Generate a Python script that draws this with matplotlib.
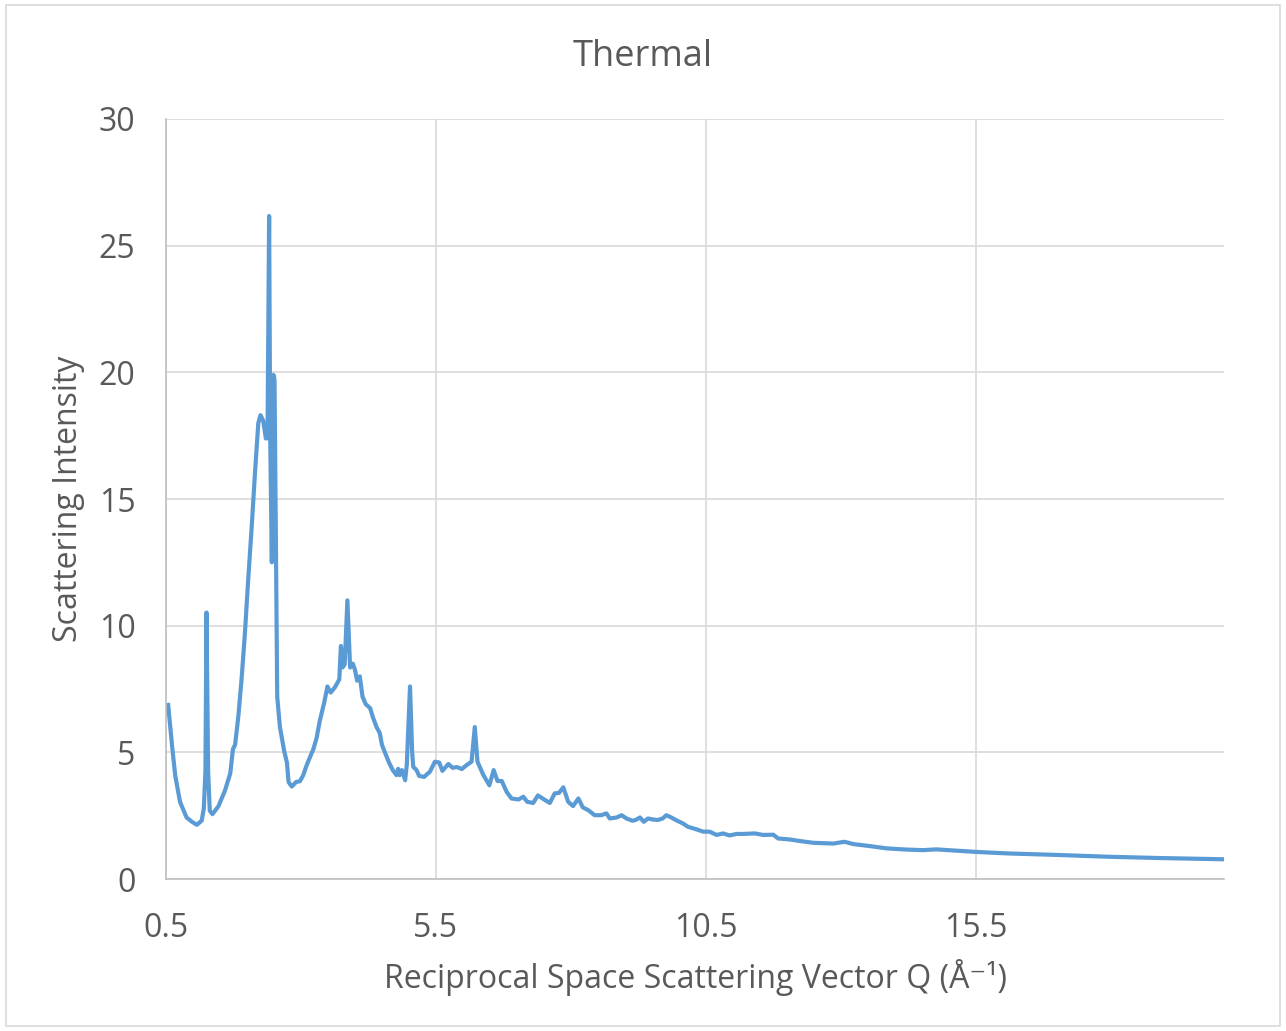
import matplotlib.pyplot as plt
from matplotlib.patches import Rectangle

plt.rcParams['font.family'] = ['Open Sans', 'DejaVu Sans']

# values
q = [0.54, 0.61, 0.67, 0.76, 0.88, 0.98, 1.07, 1.16, 1.20, 1.23,
     1.25, 1.28, 1.31, 1.36, 1.47, 1.59, 1.69, 1.74, 1.78, 1.84,
     1.90, 1.96, 2.02, 2.09, 2.15, 2.21, 2.25, 2.30, 2.35, 2.38,
     2.41, 2.43, 2.46, 2.49, 2.51, 2.54, 2.56, 2.61, 2.69, 2.74,
     2.77, 2.83, 2.91, 2.98, 3.04, 3.11, 3.23, 3.29, 3.35, 3.43,
     3.49, 3.55, 3.63, 3.71, 3.74, 3.77, 3.81, 3.86, 3.91, 3.96,
     4.00, 4.04, 4.09, 4.14, 4.20, 4.28, 4.33, 4.40, 4.46, 4.50,
     4.56, 4.63, 4.70, 4.77, 4.80, 4.83, 4.87, 4.93, 4.96, 5.02,
     5.06, 5.08, 5.14, 5.19, 5.28, 5.39, 5.48, 5.56, 5.62, 5.73,
     5.81, 5.89, 5.98, 6.07, 6.16, 6.22, 6.27, 6.38, 6.49, 6.57,
     6.64, 6.72, 6.81, 6.90, 7.03, 7.12, 7.19, 7.30, 7.39, 7.49,
     7.61, 7.70, 7.78, 7.86, 7.95, 8.04, 8.14, 8.22, 8.32, 8.44,
     8.56, 8.66, 8.72, 8.85, 8.94, 9.03, 9.14, 9.20, 9.28, 9.35,
     9.43, 9.52, 9.61, 9.70, 9.77, 9.86, 9.97, 10.08, 10.17, 10.33,
     10.45, 10.57, 10.70, 10.82, 10.94, 11.07, 11.19, 11.41, 11.56, 11.75,
     11.84, 12.06, 12.24, 12.49, 12.86, 13.07, 13.23, 13.54, 13.85, 14.15,
     14.52, 14.77, 15.14, 15.51, 16.10, 17.02, 17.95, 18.88, 20.08]

intensity = [6.87, 5.3, 4.09, 3.04, 2.43, 2.26, 2.14, 2.3, 2.78, 4.26,
             10.52, 4.26, 2.7, 2.56, 2.87, 3.48, 4.17, 5.13, 5.3, 6.43,
             7.9, 9.65, 11.74, 14.0, 16.1, 18.0, 18.31, 18.09, 17.39, 17.4,
             26.17, 17.4, 12.5, 19.9, 19.7, 12.1, 7.2, 6.0, 5.04, 4.6,
             3.83, 3.65, 3.83, 3.86, 4.09, 4.52, 5.13, 5.57, 6.26, 6.96,
             7.6, 7.36, 7.57, 7.88, 9.2, 8.35, 8.47, 11.0, 8.35, 8.5,
             8.26, 7.83, 8.0, 7.2, 6.9, 6.75, 6.4, 6.0, 5.76, 5.3,
             4.97, 4.6, 4.3, 4.1, 4.35, 4.1, 4.3, 3.9, 4.5, 7.6,
             5.0, 4.43, 4.3, 4.07, 4.03, 4.24, 4.63, 4.6, 4.27, 4.54,
             4.39, 4.42, 4.34, 4.5, 4.63, 6.0, 4.63, 4.1, 3.7, 4.3,
             3.87, 3.87, 3.44, 3.18, 3.14, 3.25, 3.05, 3.0, 3.3, 3.16,
             3.0, 3.38, 3.4, 3.62, 3.05, 2.88, 3.18, 2.83, 2.72, 2.52,
             2.52, 2.59, 2.39, 2.43, 2.52, 2.39, 2.3, 2.33, 2.43, 2.26,
             2.39, 2.35, 2.33, 2.39, 2.52, 2.43, 2.3, 2.19, 2.06, 1.96,
             1.87, 1.87, 1.74, 1.8, 1.72, 1.78, 1.78, 1.8, 1.74, 1.75,
             1.6, 1.56, 1.5, 1.43, 1.4, 1.47, 1.38, 1.3, 1.21, 1.17,
             1.14, 1.17, 1.12, 1.07, 1.01, 0.95, 0.88, 0.83, 0.78]

x_ticks = [0.5, 5.5, 10.5, 15.5]
y_ticks = [0, 5, 10, 15, 20, 25, 30]

text_col = "#595959"
grid_col = "#D9D9D9"

fig = plt.figure(figsize=(12.86, 10.31), dpi=100)
ax = fig.add_axes([0.1291, 0.1474, 0.8227, 0.7372])

ax.plot(q, intensity, color="#5B9BD5", linewidth=3.0, solid_joinstyle="round")

ax.set_xlim(0.5, 20.1)
ax.set_ylim(0, 30)
ax.set_xticks(x_ticks)
ax.set_xticklabels([str(t) for t in x_ticks])
ax.set_yticks(y_ticks)

ax.grid(True, color=grid_col, linewidth=1.2)
ax.set_axisbelow(True)
for s in ["top", "right"]:
    ax.spines[s].set_visible(False)
for s in ["left", "bottom"]:
    ax.spines[s].set_color("#BFBFBF")
    ax.spines[s].set_linewidth(1.2)

ax.tick_params(length=0, labelsize=23, colors=text_col, pad=22)
ax.tick_params(axis="x", pad=24)

fig.text(0.5, 0.945, "Thermal", fontsize=26, color=text_col, ha="center", va="center")
ax.set_xlabel("Reciprocal Space Scattering Vector Q (Å⁻¹)", fontsize=23,
              color=text_col, labelpad=10)
ax.set_ylabel("Scattering Intensity", fontsize=23, color=text_col, labelpad=10)

fig.patches.append(Rectangle((0.005, 0.005), 0.99, 0.99, transform=fig.transFigure,
                             fill=False, edgecolor=grid_col, linewidth=1.2))

fig.savefig("out.png", dpi=100)
